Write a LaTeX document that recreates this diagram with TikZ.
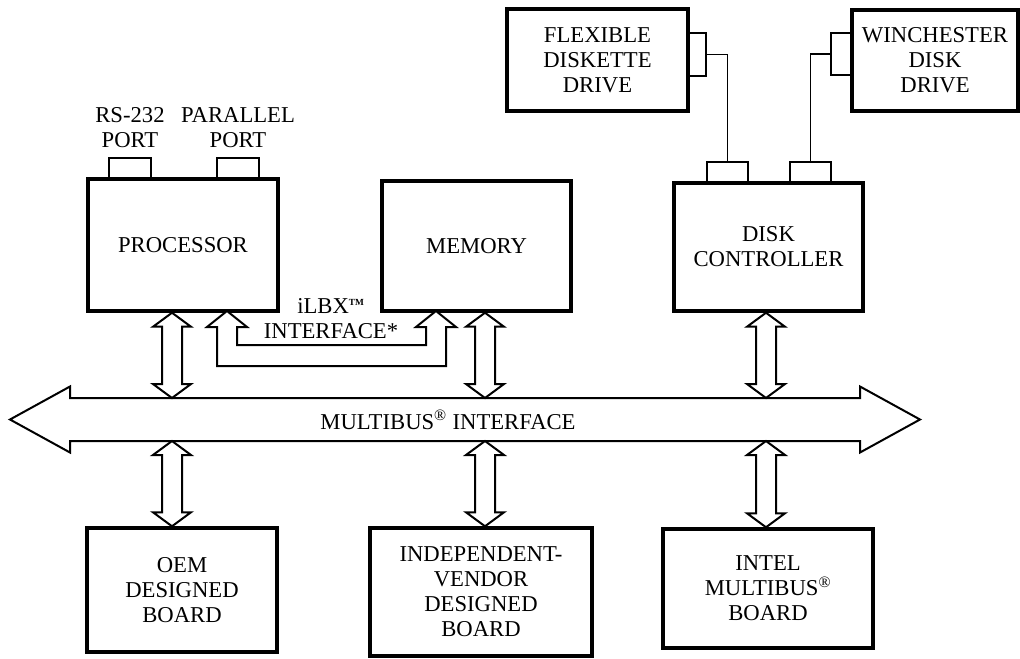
\documentclass[tikz,border=0pt]{standalone}
\usepackage{fontspec}
\setmainfont{Liberation Serif}
\usepackage{tikz}
\usetikzlibrary{calc, positioning}

\tikzset{
  unit/.style={draw, line width=2.6pt, align=center, inner sep=0pt},
  tab/.style={draw, line width=1.4pt, inner sep=0pt},
  fat/.style={line width=1.5pt, fill=white},
  wire/.style={line width=1.3pt},
  lbl/.style={align=center, inner sep=0pt}
}
% double headed bus arrow, #1 upper tip, #2 lower tip
\newcommand{\busarrow}[2]{%
  \draw[fat] let \p1=(#1), \p2=(#2) in
    (\x1,\y1) -- ++(14.25pt,-10.5pt) -- ++(-6.75pt,0pt) -- (\x1+7.5pt,\y2+10.5pt)
    -- ++(6.75pt,0pt) -- (\x1,\y2) -- ++(-14.25pt,10.5pt) -- ++(6.75pt,0pt)
    -- (\x1-7.5pt,\y1-10.5pt) -- ++(-6.75pt,0pt) -- cycle;}

\begin{document}
\begin{tikzpicture}[x=.75pt, y=-.75pt, font=\fontsize{17}{18.8}\selectfont]
\useasboundingbox[fill=white] (0,0) rectangle (1020,658);

% boards on top
\node[unit, minimum width=142.5pt, minimum height=99pt] (proc) at (183,245) {PROCESSOR};
\node[unit, minimum width=141.75pt, minimum height=97.5pt] (mem) at (476.5,246) {MEMORY};
\node[unit, minimum width=141.75pt, minimum height=96pt] (dc) at (768.5,247) {DISK\\CONTROLLER};
\node[unit, minimum width=135.75pt, minimum height=76.5pt] (fd) at (597.5,60) {FLEXIBLE\\DISKETTE\\DRIVE};
\node[unit, minimum width=124.5pt, minimum height=75.75pt] (wd) at (935,60.5) {WINCHESTER\\DISK\\DRIVE};

% boards below the bus
\node[unit, minimum width=142.5pt, minimum height=93pt] (oem) at (182,590) {OEM\\DESIGNED\\BOARD};
\node[unit, minimum width=166.5pt, minimum height=96pt] (ivd) at (481,592) {INDEPENDENT-\\VENDOR\\DESIGNED\\BOARD};
\node[unit, minimum width=157.5pt, minimum height=89.25pt] (imb) at (768,588.5) {INTEL\\MULTIBUS\textsuperscript{\textregistered}\\BOARD};

% ports and connectors
\node[tab, minimum width=31.5pt, minimum height=15.75pt] (rs) at (130,168.5) {};
\node[tab, minimum width=31.5pt, minimum height=15.75pt] (par) at (238,168.5) {};
\node[lbl, above=7pt of rs] (rslbl) {RS-232\\PORT};
\node[lbl, above=7pt of par] (parlbl) {PARALLEL\\PORT};
\node[tab, minimum width=30.75pt, minimum height=15.75pt] (dca) at (727.5,172.5) {};
\node[tab, minimum width=30.75pt, minimum height=15.75pt] (dcb) at (810.5,172.5) {};
\node[tab, minimum width=13.5pt, minimum height=32.25pt] (fdtab) at (697,54.5) {};
\node[tab, minimum width=15.75pt, minimum height=31.5pt] (wdtab) at (841.5,54) {};
\draw[wire] (fdtab.east) -| (dca.north);
\draw[wire] (wdtab.west) -| (dcb.north);

% the bus
\coordinate (bustop) at (0,398);
\coordinate (busbot) at (0,441);
\draw[fat] (10,419.5) -- (70,386.5) -- (70,398) -- (860,398) -- (860,386.5) -- (920,419.5)
  -- (860,452.5) -- (860,441) -- (70,441) -- (70,452.5) -- cycle;
\node (bus) at (448,420) {MULTIBUS\textsuperscript{\textregistered} INTERFACE};

% bus arrows
\coordinate (c1) at (172,0);
\coordinate (c2) at (485,0);
\coordinate (c3) at (766,0);
\foreach \a/\b/\c in {proc/oem/c1, mem/ivd/c2, dc/imb/c3}
{
    \busarrow{\a.south -| \c}{bustop -| \c}
    \busarrow{busbot -| \c}{\b.north -| \c}
}

% iLBX path
\draw[fat] (227,311) -- (247,327) -- (237,327) -- (237,345) -- (426,345) -- (426,327)
  -- (416,327) -- (436,311) -- (456,327) -- (446,327) -- (446,366) -- (217,366)
  -- (217,327) -- (207,327) -- cycle;
\node[lbl] (ilbx) at (331,319) {iLBX\textsuperscript{\fontsize{7}{7}\selectfont\bfseries TM}\\INTERFACE*};
\end{tikzpicture}
\end{document}
